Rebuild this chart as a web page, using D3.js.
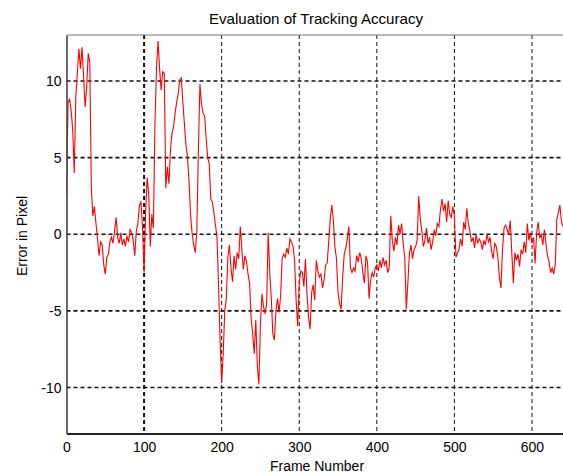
<!DOCTYPE html>
<html>
<head>
<meta charset="utf-8">
<script src="https://cdn.jsdelivr.net/npm/d3@7"></script>
<style>
  html, body { margin: 0; padding: 0; background: #fff; }
  svg { display: block; }
  text { font-family: "Liberation Sans", Arial, sans-serif; fill: #000; }
</style>
</head>
<body>
<svg id="chart" width="563" height="475"></svg>
<script>
// ---- data ----
const title = "Evaluation of Tracking Accuracy";
const xLabel = "Frame Number";
const yLabel = "Error in Pixel";
const xTicks = [0, 100, 200, 300, 400, 500, 600];
const yTicks = [-10, -5, 0, 5, 10];
const frameStep = 2; // one reading every 2 frames, starting at frame 0
const errorValues = [
  2.4, 8.6, 8.8, 8.1, 6.8, 4.0, 8.9, 10.5, 12.1, 10.8,
  12.2, 10.3, 8.3, 9.6, 11.8, 11.2, 3.0, 1.2, 1.8, 0.7,
  -0.3, -1.4, -0.5, -0.7, -2.0, -2.6, -1.5, -1.3, -0.5, -0.2,
  -0.6, 0.2, 1.1, -0.2, -0.6, 0.1, -0.7, -0.3, -0.8, -0.1,
  -0.5, 0.3, 0.1, -0.4, -1.4, 0.2, 0.7, 1.9, 2.1, 0.4,
  -2.5, 1.5, 3.7, 2.6, -0.8, 1.3, 0.4, 7.2, 10.8, 12.6,
  10.8, 9.4, 10.6, 10.5, 3.0, 4.4, 3.3, 5.5, 6.6, 7.0,
  7.9, 8.6, 9.2, 10.1, 10.2, 8.6, 7.2, 5.8, 5.0, 3.4,
  1.2, 0.0, -0.7, -1.2, 0.2, 5.5, 9.8, 8.5, 7.9, 7.7,
  6.3, 5.0, 4.6, 2.3, 2.1, 1.4, 0.6, -0.2, -3.4, -7.0,
  -9.7, -7.8, -5.0, -4.2, -1.5, -0.7, -2.2, -3.1, -1.4, -2.3,
  -1.2, -1.6, 0.5, -1.0, -2.3, -1.4, -1.8, -2.6, -3.2, -5.5,
  -6.5, -7.8, -5.6, -8.6, -9.8, -5.8, -3.9, -4.7, -5.2, -4.5,
  0.1, -2.5, -4.2, -6.5, -6.9, -5.0, -4.2, -5.1, -4.0, -1.6,
  -1.3, -1.5, -0.9, -1.3, -0.3, -0.5, -0.8, -1.7, -4.3, -6.0,
  -3.2, -2.4, -2.5, -3.4, -1.6, -3.9, -5.4, -6.2, -3.8, -3.3,
  -4.3, -1.7, -2.4, -2.8, -2.6, -3.5, -3.0, -2.0, -1.9, -0.5,
  1.0, 1.9, 0.9, -0.8, -1.6, -3.8, -4.5, -4.9, -2.8, -1.3,
  -0.9, -0.3, 0.5, -2.2, -2.5, -2.2, -2.4, -1.4, -1.8, -1.2,
  -1.6, -2.5, -3.2, -1.4, -1.8, -4.2, -3.0, -2.5, -2.8, -2.2,
  -2.0, -2.4, -1.7, -2.2, -1.5, -2.0, -1.7, -2.5, -2.2, 1.2,
  -0.4, -1.1, -0.2, -0.7, 0.6, 0.0, 0.7, -0.6, -1.5, -4.9,
  -3.2, -1.3, -0.7, -1.6, -1.0, -0.8, -0.4, 2.5, 1.0, 0.2,
  -0.8, -0.4, 0.4, -0.6, -0.2, -1.0, -0.5, 0.3, -0.1, 0.7,
  0.5, 1.6, 2.3, 1.5, 2.0, 0.8, 2.2, 1.3, 1.1, 1.8,
  1.2, -1.5, -1.2, -1.0, -0.3, -0.8, 0.8, 0.3, 1.7, 0.7,
  0.2, -0.5, -0.2, -0.9, 0.0, -0.6, -0.3, -0.5, -1.0, -0.4,
  -0.7, 0.0, -0.5, -0.2, -1.1, -1.6, -0.6, -0.8, -1.5, -2.8,
  -3.5, -1.0, 0.4, 0.6, 0.3, 0.0, 0.9, -1.2, -3.2, -1.2,
  -1.7, -1.3, -2.1, -1.0, -1.3, -0.5, -1.2, 0.7, -0.4, 0.1,
  -0.6, -0.2, -1.9, 0.1, 0.8, -0.2, 0.0, -0.7, 0.3, -0.6,
  -1.4, -1.8, -2.5, -2.2, -2.6, -2.0, 1.0, 1.4, 1.9, 0.8,
  0.5
];
const frames = errorValues.map((d, i) => i * frameStep);

// ---- layout ----
const svg = d3.select("#chart");
const mLeft = 66.5, mRight = 563, mTop = 35, mBottom = 433.5;

const x = d3.scaleLinear().domain([0, 640]).range([mLeft, mRight]);
const y = d3.scaleLinear().domain([-13, 13]).range([mBottom, mTop]);

// clip
svg.append("defs").append("clipPath").attr("id", "clip")
  .append("rect").attr("x", mLeft).attr("y", mTop)
  .attr("width", mRight - mLeft).attr("height", mBottom - mTop);

// horizontal grid
svg.append("g").selectAll("line").data(yTicks).join("line")
  .attr("x1", mLeft).attr("x2", mRight)
  .attr("y1", d => y(d)).attr("y2", d => y(d))
  .attr("stroke", "#111").attr("stroke-width", 1.6)
  .attr("stroke-dasharray", "4,3");

// vertical grid
svg.append("g").selectAll("line").data(xTicks.filter(d => d > 0)).join("line")
  .attr("x1", d => x(d)).attr("x2", d => x(d))
  .attr("y1", mTop).attr("y2", mBottom)
  .attr("stroke", "#111")
  .attr("stroke-width", d => d === 100 ? 2 : 1)
  .attr("stroke-dasharray", "4,3");

// data line
const line = d3.line().x((d, i) => x(frames[i])).y(d => y(d));
svg.append("path")
  .datum(errorValues)
  .attr("clip-path", "url(#clip)")
  .attr("fill", "none")
  .attr("stroke", "#ff0000")
  .attr("stroke-width", 1.1)
  .attr("stroke-linejoin", "miter")
  .attr("d", line);

// frame: top border
svg.append("line").attr("x1", mLeft).attr("x2", mRight)
  .attr("y1", mTop).attr("y2", mTop)
  .attr("stroke", "#777").attr("stroke-width", 1.2);

// axes
const fmt = d => String(d);
const xAxis = d3.axisBottom(x).tickValues(xTicks).tickFormat(fmt).tickSize(0).tickPadding(9);
const gx = svg.append("g").attr("transform", `translate(0,${mBottom})`).call(xAxis);
gx.select(".domain").attr("stroke", "#222").attr("stroke-width", 2);
gx.selectAll("text").attr("font-size", 14).attr("font-family", "Liberation Sans, Arial, sans-serif");

const yAxis = d3.axisLeft(y).tickValues(yTicks).tickFormat(fmt).tickSize(0).tickPadding(5);
const gy = svg.append("g").attr("transform", `translate(${mLeft},0)`).call(yAxis);
gy.select(".domain").attr("stroke", "#444").attr("stroke-width", 1.6);
gy.selectAll("text").attr("font-size", 14).attr("font-family", "Liberation Sans, Arial, sans-serif");

// titles
svg.append("text").attr("x", 316).attr("y", 24)
  .attr("text-anchor", "middle").attr("font-size", 15)
  .attr("textLength", 214).attr("lengthAdjust", "spacingAndGlyphs")
  .text(title);

svg.append("text").attr("x", 317).attr("y", 471)
  .attr("text-anchor", "middle").attr("font-size", 14)
  .text(xLabel);

svg.append("text")
  .attr("transform", `translate(27,236) rotate(-90)`)
  .attr("text-anchor", "middle").attr("font-size", 14)
  .text(yLabel);
</script>
</body>
</html>
